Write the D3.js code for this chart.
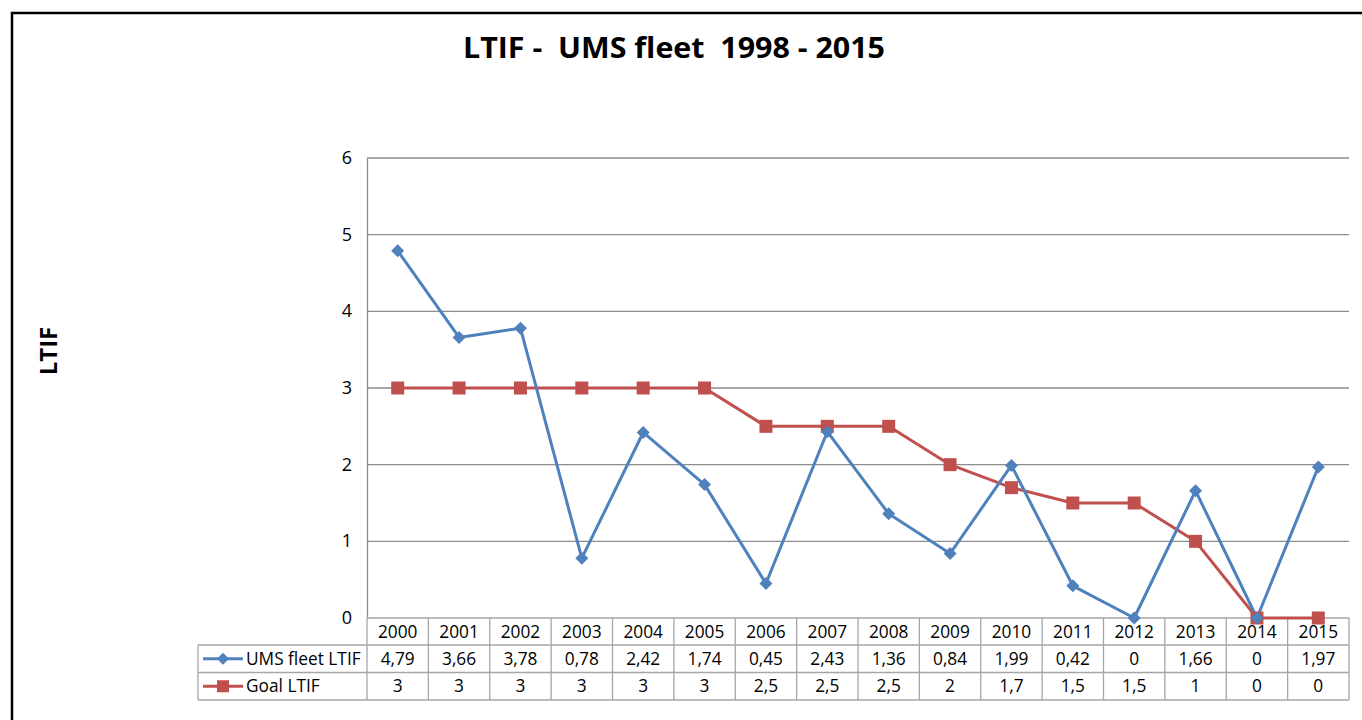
<!DOCTYPE html>
<html><head><meta charset="utf-8">
<script src="https://cdn.jsdelivr.net/npm/d3@7"></script>
<style>body{margin:0;background:#fff;}svg{display:block;}</style>
</head><body>
<svg id="c" width="1362" height="720"></svg>
<script>
const years = ["2000","2001","2002","2003","2004","2005","2006","2007","2008","2009","2010","2011","2012","2013","2014","2015"];
const umsLTIF = [4.79,3.66,3.78,0.78,2.42,1.74,0.45,2.43,1.36,0.84,1.99,0.42,0,1.66,0,1.97];
const goalLTIF = [3,3,3,3,3,3,2.5,2.5,2.5,2,1.7,1.5,1.5,1,0,0];
const yTicks = [0,1,2,3,4,5,6];
const seriesNames = ["UMS fleet LTIF","Goal LTIF"];
const colors = ["#4F81BD","#C0504D"];

const svg = d3.select("#c");
const font = "'Open Sans', 'Noto Sans', sans-serif";
const L=367, R=1349, T=158, B=618;
const x = d3.scaleBand().domain(years).range([L,R]);
const y = d3.scaleLinear().domain([0,6]).range([B,T]);

// outer frame
svg.append("rect").attr("x",12).attr("y",13).attr("width",1362).attr("height",720)
  .attr("fill","none").attr("stroke","#000").attr("stroke-width",2.5);

// title
svg.append("text").attr("x",674).attr("y",58).attr("text-anchor","middle")
  .attr("font-family",font).attr("font-weight","bold").attr("font-size",29)
  .attr("textLength",422).attr("lengthAdjust","spacingAndGlyphs")
  .attr("xml:space","preserve").text("LTIF -  UMS fleet  1998 - 2015");

// y title
svg.append("text").attr("transform","translate(57,351) rotate(-90)").attr("text-anchor","middle")
  .attr("font-family",font).attr("font-weight","bold").attr("font-size",24).text("LTIF");

// gridlines
svg.append("g").selectAll("line").data(yTicks.filter(d=>d>0)).join("line")
  .attr("x1",L).attr("x2",R).attr("y1",d=>y(d)).attr("y2",d=>y(d))
  .attr("stroke","#8c8c8c").attr("stroke-width",1.3);

// y axis
const ya = svg.append("g").attr("transform",`translate(${L},0)`)
  .call(d3.axisLeft(y).tickValues(yTicks).tickSize(0).tickPadding(15).tickFormat(d3.format("d")));
ya.select(".domain").attr("stroke","#8c8c8c").attr("stroke-width",1.3);
ya.selectAll("text").attr("font-family",font).attr("font-size",18).attr("fill","#000").attr("dy","0.3em");

// data table
const rowH = [618,645,672.5,700];
const tg = svg.append("g").attr("stroke","#a6a6a6").attr("stroke-width",1.3);
tg.append("line").attr("x1",L).attr("x2",R).attr("y1",rowH[0]).attr("y2",rowH[0]);
[1,2,3].forEach(i=>tg.append("line").attr("x1",198).attr("x2",R).attr("y1",rowH[i]).attr("y2",rowH[i]));
tg.selectAll(".v").data(years).join("line").attr("class","v")
  .attr("x1",d=>x(d)).attr("x2",d=>x(d)).attr("y1",rowH[0]).attr("y2",rowH[3]);
tg.append("line").attr("x1",R).attr("x2",R).attr("y1",rowH[0]).attr("y2",rowH[3]);
tg.append("line").attr("x1",198).attr("x2",198).attr("y1",rowH[1]).attr("y2",rowH[3]);

const fmt = v => String(v).replace(".",",");
const tt = svg.append("g").attr("font-family",font).attr("font-size",17.3).attr("text-anchor","middle").attr("fill","#000");
tt.selectAll(".yr").data(years).join("text").attr("class","yr")
  .attr("x",d=>x(d)+x.bandwidth()/2).attr("y",(rowH[0]+rowH[1])/2+6).text(d=>d);
[umsLTIF,goalLTIF].forEach((arr,si)=>{
  tt.selectAll(".r"+si).data(arr).join("text").attr("class","r"+si)
    .attr("x",(d,i)=>x(years[i])+x.bandwidth()/2).attr("y",(rowH[si+1]+rowH[si+2])/2+6).text(d=>fmt(d));
});

const diamondPath = s => `M0,${-s}L${s},0L0,${s}L${-s},0Z`;

// legend keys in table
seriesNames.forEach((n,si)=>{
  const cy = (rowH[si+1]+rowH[si+2])/2;
  svg.append("line").attr("x1",203).attr("x2",243).attr("y1",cy).attr("y2",cy)
    .attr("stroke",colors[si]).attr("stroke-width",3);
  if(si===0){
    svg.append("path").attr("d",diamondPath(6))
      .attr("transform",`translate(223,${cy})`).attr("fill",colors[0]);
  } else {
    svg.append("rect").attr("x",217).attr("y",cy-6).attr("width",12).attr("height",12).attr("fill",colors[1]);
  }
  svg.append("text").attr("x",246).attr("y",cy+6).attr("font-family",font).attr("font-size",17.3)
    .attr("fill","#000").text(n);
});

// lines
const line = d3.line().x((d,i)=>x(years[i])+x.bandwidth()/2).y(d=>y(d));
svg.append("path").datum(goalLTIF).attr("d",line).attr("fill","none").attr("stroke",colors[1]).attr("stroke-width",3).attr("stroke-linejoin","round");
svg.append("path").datum(umsLTIF).attr("d",line).attr("fill","none").attr("stroke",colors[0]).attr("stroke-width",3).attr("stroke-linejoin","round");

// markers
svg.append("g").selectAll("rect").data(goalLTIF).join("rect")
  .attr("x",(d,i)=>x(years[i])+x.bandwidth()/2-6.5).attr("y",d=>y(d)-6.5)
  .attr("width",13).attr("height",13).attr("fill",colors[1]);
svg.append("g").selectAll("path").data(umsLTIF).join("path")
  .attr("d",diamondPath(6.5))
  .attr("transform",(d,i)=>`translate(${x(years[i])+x.bandwidth()/2},${y(d)})`).attr("fill",colors[0]);
</script>
</body></html>
